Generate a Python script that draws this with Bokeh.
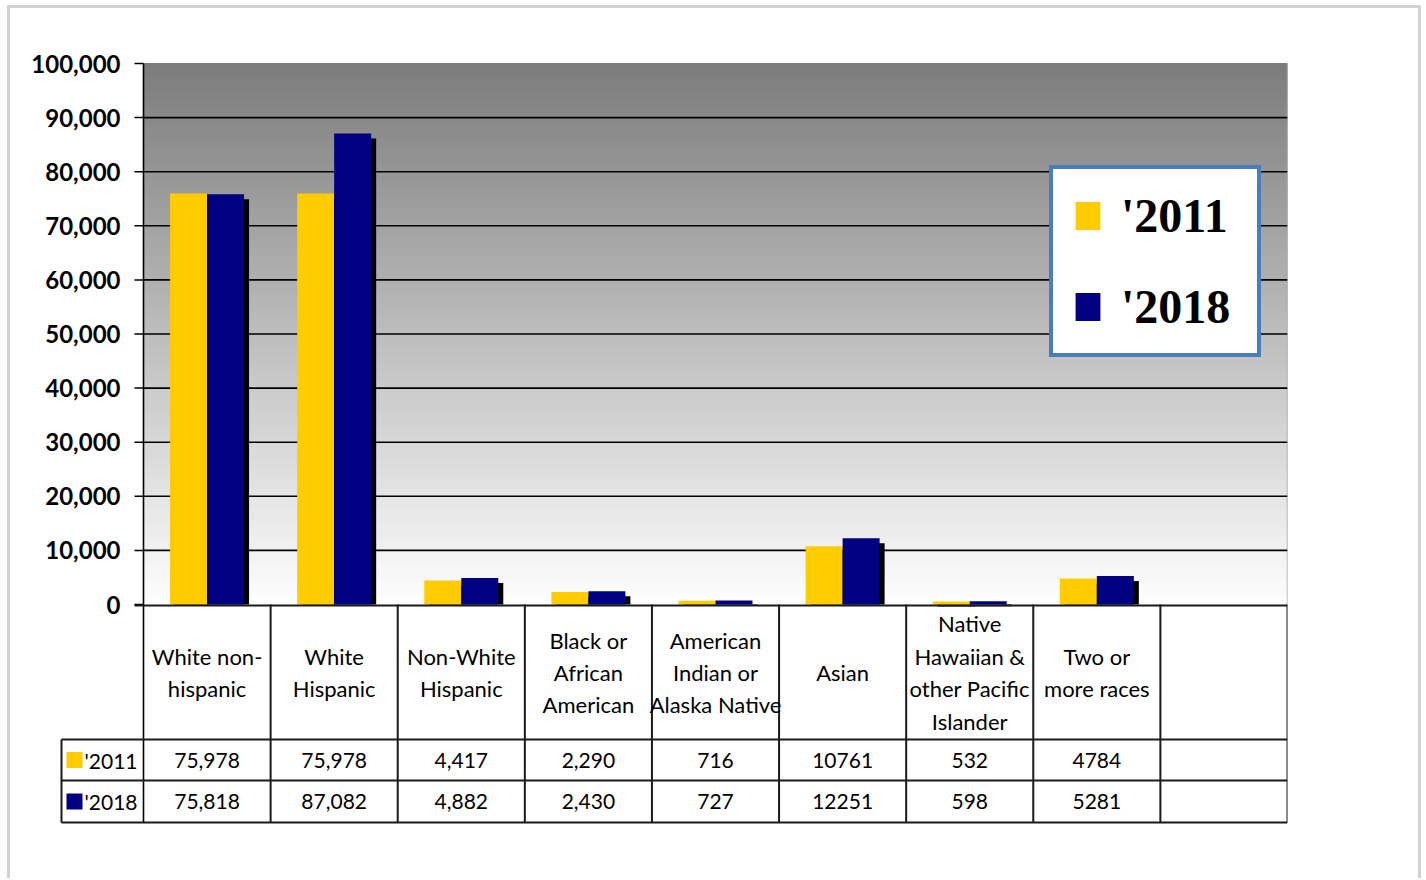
import numpy as np
from bokeh.plotting import figure
from bokeh.models import Range1d, Legend, LegendItem
from bokeh.layouts import column
from bokeh.embed import file_html
from bokeh.resources import INLINE
from bokeh.core.properties import value

# ---------------- data ----------------
categories = ["White non-\nhispanic", "White\nHispanic", "Non-White\nHispanic",
              "Black or\nAfrican\nAmerican", "American\nIndian or\nAlaska Native",
              "Asian", "Native\nHawaiian &\nother Pacific\nIslander", "Two or\nmore races"]
series_names = ["'2011", "'2018"]
values_2011 = [75978, 75978, 4417, 2290, 716, 10761, 532, 4784]
values_2018 = [75818, 87082, 4882, 2430, 727, 12251, 598, 5281]
labels_2011 = ["75,978", "75,978", "4,417", "2,290", "716", "10761", "532", "4784"]
labels_2018 = ["75,818", "87,082", "4,882", "2,430", "727", "12251", "598", "5281"]
y_ticks = [0, 10000, 20000, 30000, 40000, 50000, 60000, 70000, 80000, 90000, 100000]
grid_ticks = [10000, 20000, 30000, 40000, 50000, 60000, 70000, 80000, 90000]

# ---------------- style / layout (pixels) ----------------
YELLOW = "#FFCC00"
NAVY = "#000080"
LINE = "#1a1a1a"
COL_PX = 1144 / 9          # width of one table column / category slot
N_COLS = 9                 # 8 categories + one empty column
CHART_H = 541              # pixel height of the 0..100000 value axis
LEFT_PAD = 128             # frame room left of the value axis (tick labels, row header)
TOP_PAD = 18               # frame room above 100,000
TABLE_H = 222              # frame room below the 0 line (data table)
ROWHEAD_PX = 82

px_x = 1 / COL_PX
px_y = 100000 / CHART_H
FRAME_W = 1144 + LEFT_PAD
FRAME_H = TOP_PAD + CHART_H + TABLE_H

n = len(categories)
centers = np.arange(n) + 0.5
bw = 37 * px_x
x11 = centers - bw / 2
x18 = centers + bw / 2

p = figure(frame_width=FRAME_W, frame_height=FRAME_H,
           x_range=Range1d(-LEFT_PAD * px_x, N_COLS),
           y_range=Range1d(-TABLE_H * px_y, 100000 + TOP_PAD * px_y),
           output_backend="svg", toolbar_location=None,
           x_axis_location=None, y_axis_location=None,
           min_border_left=5, min_border_right=131, min_border_top=37, min_border_bottom=52,
           background_fill_color="white", border_fill_color="white")
p.outline_line_color = None
p.grid.visible = False
# table coordinates: pixels downward from the 0 line
p.extra_y_ranges = {"table": Range1d(TABLE_H, -(CHART_H + TOP_PAD))}

# gradient background of the chart area
nb = 140
edges = np.linspace(0, 100000, nb + 1)
mids = (edges[:-1] + edges[1:]) / 2
g = (255 - (mids / 100000) * (255 - 124)).astype(int)
cols = ["#%02x%02x%02x" % (v, v, v) for v in g]
p.quad(left=0, right=N_COLS, bottom=edges[:-1], top=edges[1:], fill_color=cols,
       line_color=cols, line_width=1, level="image")
p.segment(x0=[N_COLS], y0=[0], x1=[N_COLS], y1=[100000], line_color="#a8a8a8", line_width=1.5)

# horizontal grid lines
p.segment(x0=[0] * len(grid_ticks), y0=grid_ticks, x1=[N_COLS] * len(grid_ticks),
          y1=grid_ticks, line_color="black", line_width=1.6)

# value axis: line, ticks and labels
p.segment(x0=[-9 * px_x] * len(y_ticks), y0=y_ticks, x1=[0] * len(y_ticks), y1=y_ticks,
          line_color="black", line_width=1.5)
p.text(x=[-23 * px_x] * len(y_ticks), y=y_ticks, text=[f"{v:,}" for v in y_ticks],
       text_align="right", text_baseline="middle", text_font=value("Lato"),
       text_font_style="bold", text_font_size="24px", text_color="black")

# bars with drop shadows
dx, dy = 5 * px_x, 5 * px_y
p.vbar(x=x11 + dx, top=np.array(values_2011) - dy, bottom=0, width=bw, fill_color="black",
       line_color=None)
p.vbar(x=x18 + dx, top=np.array(values_2018) - dy, bottom=0, width=bw, fill_color="black",
       line_color=None)
r11 = p.vbar(x=x11, top=values_2011, bottom=0, width=bw, fill_color=YELLOW, line_color=None)
r18 = p.vbar(x=x18, top=values_2018, bottom=0, width=bw, fill_color=NAVY, line_color=None)

# ---------------- data table ----------------
x_left = -ROWHEAD_PX * px_x
TB = "table"
p.segment(x0=[0], y0=[-CHART_H], x1=[0], y1=[218], line_color="black", line_width=1.6,
          y_range_name=TB)
p.segment(x0=[-9 * px_x], y0=[1], x1=[N_COLS], y1=[1], line_color=LINE, line_width=2,
          y_range_name=TB)
row_lines_y = [135, 176, 218]
row_center = [155.5, 197]
p.segment(x0=[x_left] * 3, y0=row_lines_y, x1=[N_COLS] * 3, y1=row_lines_y, line_color=LINE,
          line_width=2, y_range_name=TB)
vx = list(range(1, N_COLS + 1))
p.segment(x0=vx, y0=[0] * len(vx), x1=vx, y1=[218] * len(vx), line_color=LINE, line_width=2,
          y_range_name=TB)
p.segment(x0=[x_left], y0=[135], x1=[x_left], y1=[218], line_color=LINE, line_width=2,
          y_range_name=TB)

FONT = value("Lato")
p.text(x=centers, y=[68] * n, text=categories, text_align="center", text_baseline="middle",
       text_font=FONT, text_font_size="22px", text_line_height=1.2, text_color="black",
       y_range_name=TB)
p.text(x=centers, y=[row_center[0]] * n, text=labels_2011, text_align="center",
       text_baseline="middle", text_font=FONT, text_font_size="21px", text_color="black",
       y_range_name=TB)
p.text(x=centers, y=[row_center[1]] * n, text=labels_2018, text_align="center",
       text_baseline="middle", text_font=FONT, text_font_size="21px", text_color="black",
       y_range_name=TB)

key_x = x_left + 13 * px_x
p.rect(x=[key_x, key_x], y=row_center, width=16 * px_x, height=16, fill_color=[YELLOW, NAVY],
       line_color=None, y_range_name=TB)
p.text(x=[x_left + 23 * px_x] * 2, y=row_center, text=series_names, text_align="left",
       text_baseline="middle", text_font=FONT, text_font_size="21px", text_color="black",
       y_range_name=TB)

# ---------------- legend ----------------
legend = Legend(items=[LegendItem(label=series_names[0], renderers=[r11]),
                       LegendItem(label=series_names[1], renderers=[r18])],
                location=(LEFT_PAD + 906, TABLE_H + 247))
legend.label_text_font = "Liberation Serif"
legend.label_text_font_style = "bold"
legend.label_text_font_size = "48px"
legend.label_text_color = "black"
legend.glyph_width = 31
legend.glyph_height = 35
legend.label_standoff = 18
legend.label_width = 117
legend.padding = 19
legend.spacing = 36
legend.border_line_color = "#4a7ebb"
legend.border_line_alpha = 1
legend.border_line_width = 4
legend.background_fill_color = "white"
legend.background_fill_alpha = 1
legend.margin = 0
p.add_layout(legend)

layout = column(p, margin=(5, 0, 0, 7),
                styles={"border-left": "3px solid #d2d2d2",
                        "border-top": "3px solid #d2d2d2",
                        "border-right": "3px solid #d2d2d2"})

open("out.html", "w").write(file_html(layout, INLINE))
